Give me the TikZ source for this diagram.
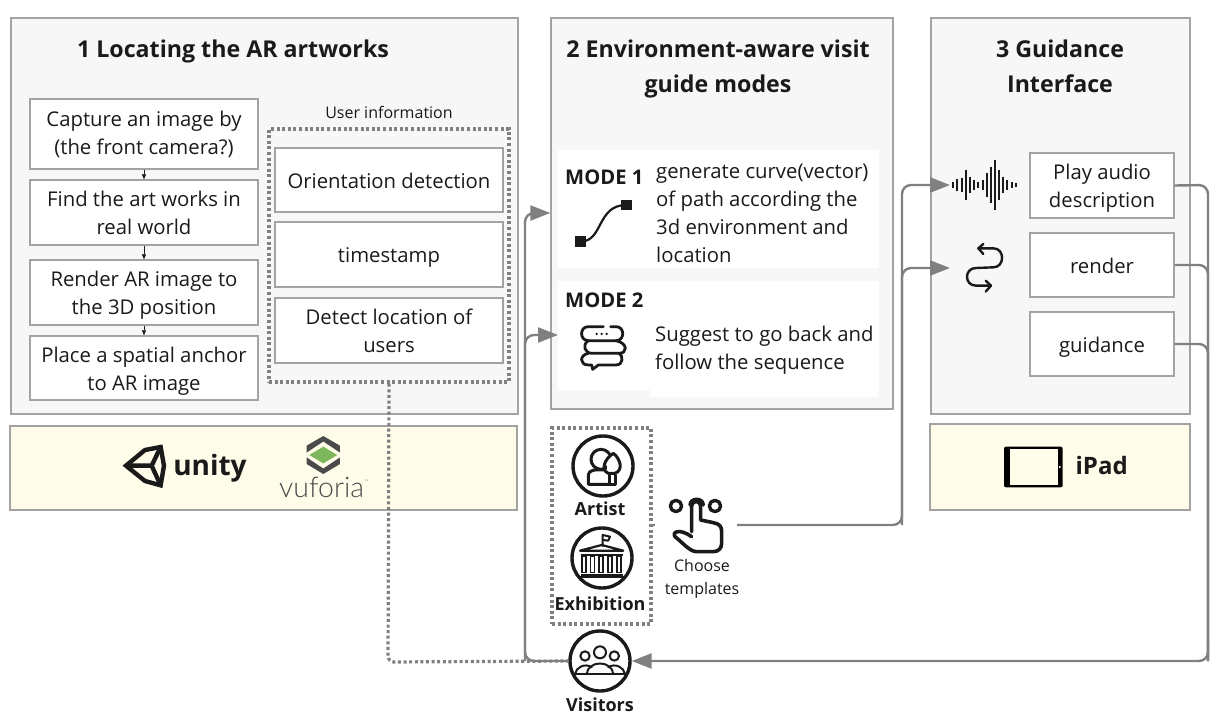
\documentclass[tikz,border=0pt]{standalone}
\usepackage{fontspec}
\setmainfont{Open Sans}
\newfontfamily\vuffont{Lato}[UprightFont=*-Light]
\usetikzlibrary{arrows.meta}
\definecolor{edgegray}{HTML}{A3A3A3}
\definecolor{linegray}{HTML}{808080}
\definecolor{panelfill}{HTML}{F7F7F7}
\definecolor{creamfill}{HTML}{FFFDE9}
\definecolor{inkblack}{HTML}{1A1A1A}
\definecolor{vufdark}{HTML}{4A4A4A}
\definecolor{vufgreen}{HTML}{7DB75B}
\newcommand{\bx}[7]{\node[#6,minimum width={(#4-#2)*1pt},minimum height={(#5-#3)*1pt}] (#1) at ({(#2+#4)/2},{(#3+#5)/2}) {#7};}
\newcommand{\stx}{\rule[-12.4pt]{0pt}{12pt}}
\newcommand{\stt}{\rule[-8.4pt]{0pt}{33pt}}
\tikzset{
  panel/.style={draw=edgegray,line width=1.4pt,fill=panelfill,inner sep=0pt},
  cream/.style={draw=edgegray,line width=1.4pt,fill=creamfill,inner sep=0pt},
  itembox/.style={draw=edgegray,line width=1.4pt,fill=white,inner sep=0pt,align=center,text=inkblack,font=\fontsize{20.3}{28}\selectfont},
  whitebox/.style={fill=white,inner sep=0pt},
  dotbox/.style={draw=linegray,line width=3.4pt,dash pattern=on 3pt off 2.6pt,inner sep=0pt},
  title/.style={inner sep=0pt,align=center,text=inkblack,font=\bfseries\fontsize{23.2}{35}\selectfont},
  body/.style={inner sep=0pt,align=left,anchor=west,text=inkblack,font=\fontsize{20.3}{28}\selectfont},
  modelabel/.style={inner sep=0pt,anchor=west,text=inkblack,font=\bfseries\fontsize{20.2}{24}\selectfont},
  small/.style={inner sep=0pt,align=center,text=inkblack,font=\fontsize{16}{23}\selectfont},
  rolelabel/.style={inner sep=0pt,text=inkblack,font=\bfseries\fontsize{18}{22}\selectfont},
  rolecircle/.style={circle,draw=inkblack,line width=3.4pt,fill=white,minimum size=60pt,inner sep=0pt},
  conn/.style={draw=linegray,line width=2.4pt,rounded corners=9pt},
  tipped/.style={conn,-{Triangle[length=20pt,width=15pt,fill=linegray]}},
  dotconn/.style={draw=linegray,line width=3.2pt,dash pattern=on 3pt off 2.6pt,rounded corners=6pt},
  step arrow/.style={draw=inkblack,line width=.5pt,-{Triangle[length=5pt,width=4pt]}},
  icon/.style={draw=inkblack,line width=3pt,line cap=round,line join=round},
  zoomA/.style={shift={(520,420)},x=.3333pt,y=-.3333pt},
  zoomB/.style={shift={(540,150)},x=.3333pt,y=-.3333pt},
  zoomC/.style={shift={(900,140)},x=.3333pt,y=-.3333pt},
  zoomD/.style={shift={(10,400)},x=.3333pt,y=-.3333pt},
  zoomE/.style={shift={(990,430)},x=.3333pt,y=-.3333pt},
}
\begin{document}
\begin{tikzpicture}[x=1pt,y=-1pt]
\useasboundingbox (0,0) rectangle (1231,720);
\fill[white] (0,0) rectangle (1231,720);
% panels
\bx{p1}{11}{18}{518}{414}{panel}{}
\bx{p2}{551}{18}{893}{409}{panel}{}
\bx{p3}{931}{18}{1190}{414}{panel}{}
\bx{y1}{10}{426}{517}{510}{cream}{}
\bx{y2}{930}{424}{1190}{510}{cream}{}
\node[title] (t1) at (233,51) {1 Locating the AR artworks};
\node[title] (t2) at (718,68.5) {2 Environment-aware visit\\guide modes};
\node[title] (t3) at (1060,66.5) {3 Guidance\\Interface};
% left column
\bx{a1}{30}{99}{258}{169}{itembox}{\rule{0pt}{24.6pt}Capture an image by\\(the front camera?)\stx}
\bx{a2}{30}{180}{258}{245}{itembox}{\rule{0pt}{24.6pt}Find the art works in\\real world\strut}
\bx{a3}{30}{260}{258}{325}{itembox}{\rule{0pt}{24.6pt}Render AR image to\\the 3D position\strut}
\bx{a4}{30}{336}{258}{400}{itembox}{\rule{0pt}{24.6pt}Place a spatial anchor\\to AR image\strut}
\draw[step arrow] (a1) -- (a2);
\draw[step arrow] (a2) -- (a3);
\draw[step arrow] (a3) -- (a4);
\node[small] (uinfo) at (389,112) {User information};
\bx{ubox}{269}{129}{509}{382}{dotbox}{}
\bx{u1}{275}{148}{503}{212}{itembox}{\stt Orientation detection}
\bx{u2}{275}{222}{503}{287}{itembox}{\stt timestamp}
\bx{u3}{275}{298}{503}{363}{itembox}{\rule{0pt}{24.6pt}Detect location of\\users\strut}
% modes
\bx{m1}{558}{150}{879}{268}{whitebox}{}
\bx{m2}{558}{281}{879}{390}{whitebox}{}
\bx{m2b}{650}{388}{878}{397}{whitebox}{}
\node[modelabel] (ml1) at (565,177) {MODE 1};
\node[modelabel] (ml2) at (565,300) {MODE 2};
\node[body] (mt1) at (656,213) {generate curve(vector)\\of path according the\\3d environment and\\location};
\node[body] (mt2) at (655,350) {Suggest to go back and\\follow the sequence};
% mode 1 icon
\begin{scope}[zoomB]
\draw[icon,line width=2.2pt] (121,275) .. controls (190,275) and (170,165) .. (259,165);
\fill[inkblack] (105,259) rectangle (137,291);
\fill[inkblack] (243,149) rectangle (275,181);
\end{scope}
% mode 2 icon
\begin{scope}[zoomB]
\draw[icon,line width=2.8pt] (190,530) -- (145,530) .. controls (118,530) and (118,572) .. (145,572) -- (228,572) .. controls (255,572) and (255,530) .. (228,530) -- (212,530);
\draw[icon,line width=2.8pt] (145,572) .. controls (125,585) and (135,610) .. (155,610) -- (238,610) .. controls (262,610) and (265,580) .. (228,572);
\draw[icon,line width=2.8pt] (145,610) .. controls (118,615) and (118,645) .. (145,645) -- (155,645) -- (158,658) -- (175,645) -- (228,645) .. controls (250,645) and (250,618) .. (238,610);
\fill[inkblack] (170,552) circle (4) (185,552) circle (4) (200,552) circle (4);
\end{scope}
% panel 3
\bx{g1}{1030}{153}{1174}{218}{itembox}{\rule{0pt}{24.6pt}Play audio\\description\strut}
\bx{g2}{1030}{233}{1174}{297}{itembox}{\stt render}
\bx{g3}{1030}{312}{1174}{376}{itembox}{\stt guidance}
\begin{scope}[zoomC]
\foreach \bxx/\bh in {160/8,172/18,185/22,198/45,210/25,222/14,235/10,248/14,260/35,272/55,285/76,297/45,310/25,322/15,335/8,347/6}
  \draw[inkblack,line width=2.1pt] (\bxx,135-\bh) -- (\bxx,135+\bh);
\draw[icon,line width=2.4pt] (235,325) -- (280,325) .. controls (315,325) and (315,382) .. (280,382) -- (228,384) .. controls (192,384) and (192,437) .. (228,437) -- (272,437);
\draw[icon,line width=2.4pt] (250,312) -- (235,325) -- (250,342);
\draw[icon,line width=2.4pt] (257,422) -- (273,437) -- (257,455);
\end{scope}
% logos
\begin{scope}[zoomD]
\draw[inkblack,line width=4.4pt,line join=miter] (348,197) -- (405,150) -- (452,141) -- (462,197) -- (452,256) -- (405,243) -- cycle;
\draw[inkblack,line width=4.4pt] (348,197) -- (425,197) -- (452,141) (425,197) -- (452,256);
\node[inner sep=0pt,text=inkblack,font=\bfseries\fontsize{28}{30}\selectfont] (unity) at (600,205) {unity};
\fill[vufdark] (940,108) -- (990,137) -- (990,192) -- (940,222) -- (890,192) -- (890,137) -- cycle;
\fill[creamfill] (940,125) -- (1000,165) -- (940,205) -- (880,165) -- cycle;
\fill[vufgreen] (940,140) -- (982,165) -- (940,190) -- (898,165) -- cycle;
\node[inner sep=0pt,text=vufdark,font=\vuffont\fontsize{28.4}{28}\selectfont] (vuf) at (935,262) {vuforia};
\node[inner sep=0pt,text=vufdark,font=\vuffont\fontsize{5}{5}\selectfont] (vuftm) at (1070,246) {™};
\end{scope}
\begin{scope}[zoomE]
\fill[black,rounded corners=2pt] (42,50) rectangle (218,172);
\fill[creamfill] (60,56) rectangle (203,165);
\fill[creamfill] (209,111) circle (3.5);
\node[inner sep=0pt,text=inkblack,font=\bfseries\fontsize{24}{24}\selectfont] (ipad) at (335,107) {iPad};
\end{scope}
% group of roles
\bx{grp}{552}{428}{651}{624}{dotbox}{}
\node[rolecircle] (artist) at (603,466) {};
\node[rolecircle] (exhib) at (602,558) {};
\node[rolecircle] (vis) at (600,661) {};
\node[rolelabel] (lartist) at (600,509) {Artist};
\node[rolelabel] (lexhib) at (600,604) {Exhibition};
\node[rolelabel] (lvis) at (600,705) {Visitors};
% connectors
\coordinate (vl) at (525,661);
\coordinate (vt) at (525,213);
\coordinate (vj) at (525,335);
\coordinate (m2in) at (558,335);
\coordinate (ct) at (902,185);
\coordinate (cj) at (902,268);
\coordinate (cb) at (902,525);
\coordinate (a1in) at (950,185);
\coordinate (a2in) at (950,268);
\coordinate (rb) at (1208,661);
\coordinate (dotb) at (388,662);
\coordinate (grpout) at (651,525);
\draw[dotconn] (ubox.south) -- (dotb) -- (vis.west);
\draw[tipped] (vis.west) -- (vl) -- (vt) -- (p2.west |- vt);
\draw[tipped] (vl) -- (vj) -- (m2in);
\draw[tipped] (grpout) -- (cb) -- (ct) -- (a1in);
\draw[tipped] (cb) -- (cj) -- (a2in);
\draw[conn] (g1.east) -- (1208,185) -- (rb);
\draw[conn] (g2.east) -- (1208,265) -- (rb);
\draw[conn] (g3.east) -- (1208,344) -- (rb);
\draw[tipped] (1208,640) -- (rb) -- (vis.east);
% choose templates
\bx{chbg}{655}{490}{737}{600}{whitebox}{}
\node[small] (choose) at (702,579) {Choose\\templates};
\begin{scope}[zoomA]
\draw[icon,line width=3.4pt] (468,258) circle (17) (585,258) circle (17);
\draw[icon,line width=3.4pt] (510,255) .. controls (510,232) and (550,232) .. (550,255);
\draw[icon,line width=3.6pt] (515,335) -- (515,258) .. controls (515,240) and (542,240) .. (542,258) -- (542,300) -- (580,308) .. controls (600,312) and (605,320) .. (605,335) -- (605,370) .. controls (605,385) and (595,395) .. (580,395) -- (530,395) .. controls (510,395) and (490,370) .. (465,350) .. controls (455,335) and (480,325) .. (515,350);
% artist
\draw[icon] (243,118) circle (30);
\draw[icon] (267,193) -- (205,193) -- (205,165) .. controls (205,150) and (225,148) .. (255,150);
\fill[white] (262,105) rectangle (300,165);
\draw[icon] (280,100) .. controls (300,115) and (312,150) .. (285,160) -- (265,160) .. controls (240,150) and (255,115) .. (280,100);
\draw[icon] (270,165) -- (270,193) -- (288,193) -- (288,165);
% exhibition
\draw[icon,line width=2pt] (248,378) -- (248,345) -- (270,350) -- (265,362) -- (248,360);
\draw[icon,line width=2.2pt] (180,392) -- (245,375) -- (310,392) -- cycle;
\draw[inkblack,line width=2.2pt] (182,404) -- (308,404);
\foreach \cx in {192,217,243,270,297}
  \draw[inkblack,line width=1.6pt] (\cx-6,408) rectangle (\cx+6,458);
\draw[inkblack,line width=2.2pt] (182,464) -- (308,464);
\draw[inkblack,line width=2.2pt] (178,472) -- (312,472);
% visitors
\draw[icon,line width=2pt] (195,708) circle (14) (240,697) circle (18) (283,708) circle (14);
\draw[icon,line width=2pt] (165,762) .. controls (168,742) and (195,728) .. (215,742);
\draw[icon,line width=2pt] (265,742) .. controls (285,728) and (312,742) .. (315,762);
\draw[icon,line width=2pt] (200,762) .. controls (205,720) and (275,720) .. (280,762);
\draw[icon,line width=2pt] (165,762) -- (315,762);
\end{scope}
\end{tikzpicture}
\end{document}
